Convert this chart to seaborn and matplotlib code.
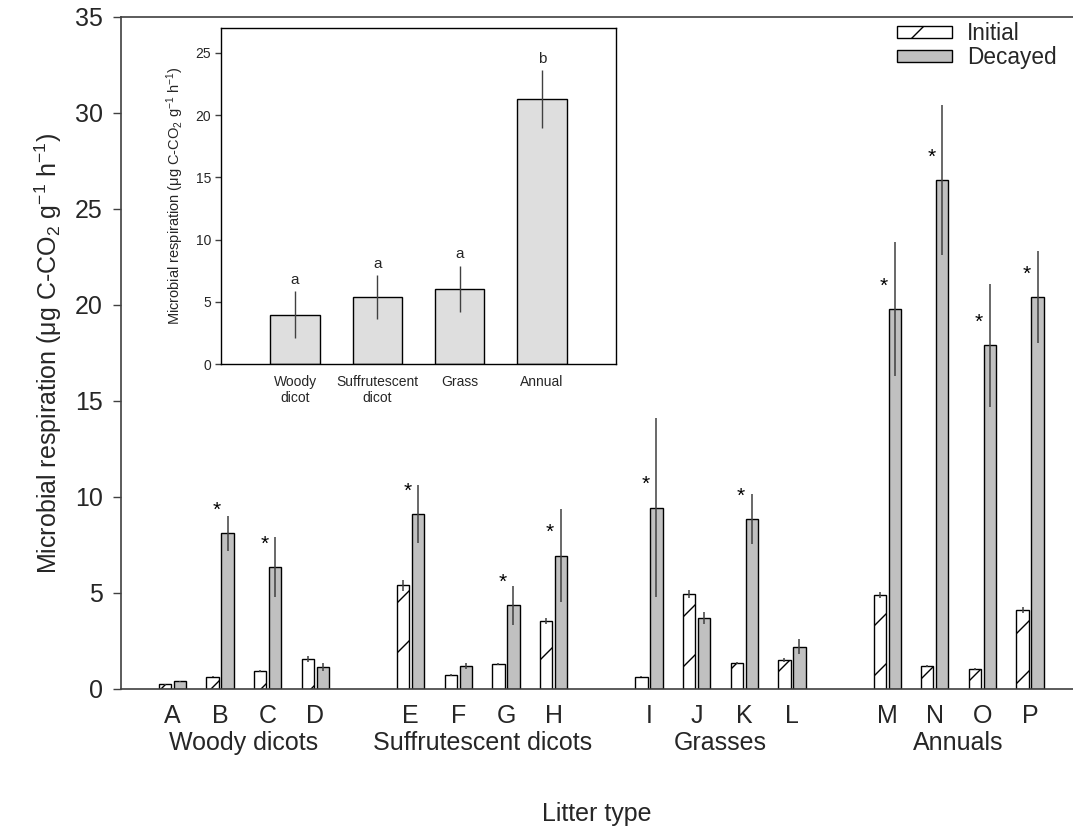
import numpy as np
import pandas as pd
import matplotlib
matplotlib.use("Agg")
import matplotlib.pyplot as plt
import matplotlib.transforms as mtransforms
from matplotlib.patches import Patch
from matplotlib.path import Path
from matplotlib.backend_bases import GraphicsContextBase
import seaborn as sns

# ---------------- data ----------------
letters = list("ABCDEFGHIJKLMNOP")
groups = ["Woody dicots", "Suffrutescent dicots", "Grasses", "Annuals"]
initial = [0.25, 0.65, 0.95, 1.55, 5.4, 0.75, 1.3, 3.55, 0.65, 4.95, 1.35, 1.5, 4.9, 1.2, 1.05, 4.1]
initial_se = [0.02, 0.03, 0.05, 0.15, 0.28, 0.05, 0.05, 0.15, 0.03, 0.2, 0.05, 0.1, 0.15, 0.05, 0.05, 0.15]
decayed = [0.4, 8.1, 6.35, 1.15, 9.1, 1.2, 4.35, 6.95, 9.45, 3.7, 8.85, 2.2, 19.8, 26.5, 17.9, 20.4]
decayed_se = [0.03, 0.9, 1.55, 0.2, 1.5, 0.15, 1.0, 2.4, 4.65, 0.3, 1.3, 0.4, 3.5, 3.9, 3.2, 2.4]
significant = [False, True, True, False, True, False, True, True, True, False, True, False,
               True, True, True, True]

inset_cats = ["Woody\ndicot", "Suffrutescent\ndicot", "Grass", "Annual"]
inset_mean = [3.95, 5.4, 6.05, 21.3]
inset_se = [1.9, 1.75, 1.85, 2.3]
inset_letters = ["a", "a", "a", "b"]

states = ["Initial", "Decayed"]
yticks_main = [0, 5, 10, 15, 20, 25, 30, 35]
yticks_inset = [0, 5, 10, 15, 20, 25]


# sparser single-diagonal hatching (about 4 lines per inch, like the original)
def _sparse_hatch_path(self, density=4.0):
    hatch = self.get_hatch()
    if hatch is None:
        return None
    return Path.hatch(hatch, density)


GraphicsContextBase.get_hatch_path = _sparse_hatch_path

# ---------------- style ----------------
sns.set_theme(style="white")
plt.rcParams["font.family"] = ["Liberation Sans", "DejaVu Sans"]
plt.rcParams["mathtext.default"] = "regular"
plt.rcParams["hatch.linewidth"] = 1.0
plt.rcParams["hatch.color"] = "black"

DEC_COLOR = "#c0c0c0"
INSET_COLOR = "#dedede"
LINE = "#404040"
FS = 18

W, H = 1073, 833
fig = plt.figure(figsize=(W / 100, H / 100), dpi=100)
ax = fig.add_axes([121 / W, 1 - 689 / H, (W - 121) / W, (689 - 17) / H])

# order with blank slots between the four groups
order = []
for gi in range(4):
    order += letters[gi * 4:(gi + 1) * 4]
    if gi < 3:
        order.append(" " * (gi + 1))

df = pd.DataFrame({
    "litter": letters * 2,
    "state": [states[0]] * len(letters) + [states[1]] * len(letters),
    "resp": initial + decayed,
})

sns.barplot(data=df, x="litter", y="resp", hue="state", order=order, hue_order=states,
            palette={"Initial": "white", "Decayed": DEC_COLOR}, edgecolor="black",
            linewidth=1.0, width=0.63, gap=0.18, errorbar=None, legend=False, ax=ax)

centers = {}
for k, cont in enumerate(ax.containers):
    pts = sorted(cont.patches, key=lambda p: p.get_x())
    pts = [p for p in pts if p.get_height() > 0]
    centers[states[k]] = [p.get_x() + p.get_width() / 2 for p in pts]
    for p in pts:
        p.set_edgecolor("black")
        p.set_linewidth(1.0)
        if states[k] == "Initial":
            p.set_hatch("/")

ax.errorbar(centers["Initial"], initial, yerr=initial_se, fmt="none",
            ecolor=LINE, elinewidth=1.1, capsize=0, zorder=5)
ax.errorbar(centers["Decayed"], decayed, yerr=decayed_se, fmt="none",
            ecolor=LINE, elinewidth=1.1, capsize=0, zorder=5)

for i, sig in enumerate(significant):
    if sig:
        ax.text(centers["Decayed"][i] - 0.23, decayed[i] + 0.7, "*", ha="center",
                va="bottom", fontsize=15, color="black")

ax.set_xlim(-1.08, 18.9)
ax.set_ylim(0, 35)
ax.set_yticks(yticks_main)
ax.set_yticklabels([str(t) for t in yticks_main])
pos = [order.index(l) for l in letters]
ax.set_xticks(pos)
ax.set_xticklabels(letters)
ax.tick_params(axis="y", direction="out", length=6, width=1, color=LINE,
               labelsize=FS, pad=7, left=True)
ax.tick_params(axis="x", length=0, labelsize=FS, pad=11)

for s in ["left", "bottom", "top"]:
    ax.spines[s].set_color(LINE)
    ax.spines[s].set_linewidth(1.2)
ax.spines["right"].set_visible(False)

ax.set_ylabel(r"Microbial respiration ($\mu$g C-CO$_2$ g$^{-1}$ h$^{-1}$)", fontsize=FS, labelpad=8)
ax.set_xlabel("Litter type", fontsize=FS)
ax.xaxis.set_label_coords(0.5, -0.168)

trans = mtransforms.blended_transform_factory(ax.transData, ax.transAxes)
for gi, g in enumerate(groups):
    gx = np.mean(pos[gi * 4:(gi + 1) * 4])
    ax.text(gx, -0.08, g, transform=trans, ha="center", va="center", fontsize=FS)

handles = [Patch(facecolor="white", edgecolor="black", hatch="/", linewidth=1.0),
           Patch(facecolor=DEC_COLOR, edgecolor="black", linewidth=1.0)]
ax.legend(handles, states, loc="upper left", bbox_to_anchor=(897 / W, 1 - 22 / H),
          bbox_transform=fig.transFigure, frameon=False, fontsize=16.3,
          handlelength=2.42, handleheight=0.49, handletextpad=0.66,
          labelspacing=0.05, borderpad=0.0, borderaxespad=0.0)

# ---------------- inset ----------------
ax2 = fig.add_axes([221 / W, 1 - 364 / H, (616 - 221) / W, (364 - 28) / H])
dfi = pd.DataFrame({"type": inset_cats, "mean": inset_mean})
sns.barplot(data=dfi, x="type", y="mean", order=inset_cats, color=INSET_COLOR,
            edgecolor="black", linewidth=1.0, width=0.6, errorbar=None, ax=ax2)
for p in ax2.patches:
    p.set_facecolor(INSET_COLOR)
    p.set_edgecolor("black")
xi = np.arange(len(inset_cats))
ax2.errorbar(xi, inset_mean, yerr=inset_se, fmt="none", ecolor=LINE, elinewidth=1.0,
             capsize=0, zorder=5)
for i, lt in enumerate(inset_letters):
    ax2.text(xi[i], inset_mean[i] + inset_se[i] + 0.35, lt, ha="center", va="bottom",
             fontsize=11)
ax2.set_xlim(-0.9, 3.9)
ax2.set_ylim(0, 27)
ax2.set_yticks(yticks_inset)
ax2.set_yticklabels([str(t) for t in yticks_inset])
ax2.tick_params(axis="y", direction="out", length=4, width=1, color=LINE, labelsize=10,
                pad=3, left=True)
ax2.tick_params(axis="x", length=0, labelsize=10, pad=8)
for s in ax2.spines.values():
    s.set_visible(True)
    s.set_color("black")
    s.set_linewidth(1.0)
ax2.set_xlabel("")
ax2.set_ylabel(r"Microbial respiration ($\mu$g C-CO$_2$ g$^{-1}$ h$^{-1}$)", fontsize=10.5,
               labelpad=7)

fig.savefig("out.png", dpi=100)
